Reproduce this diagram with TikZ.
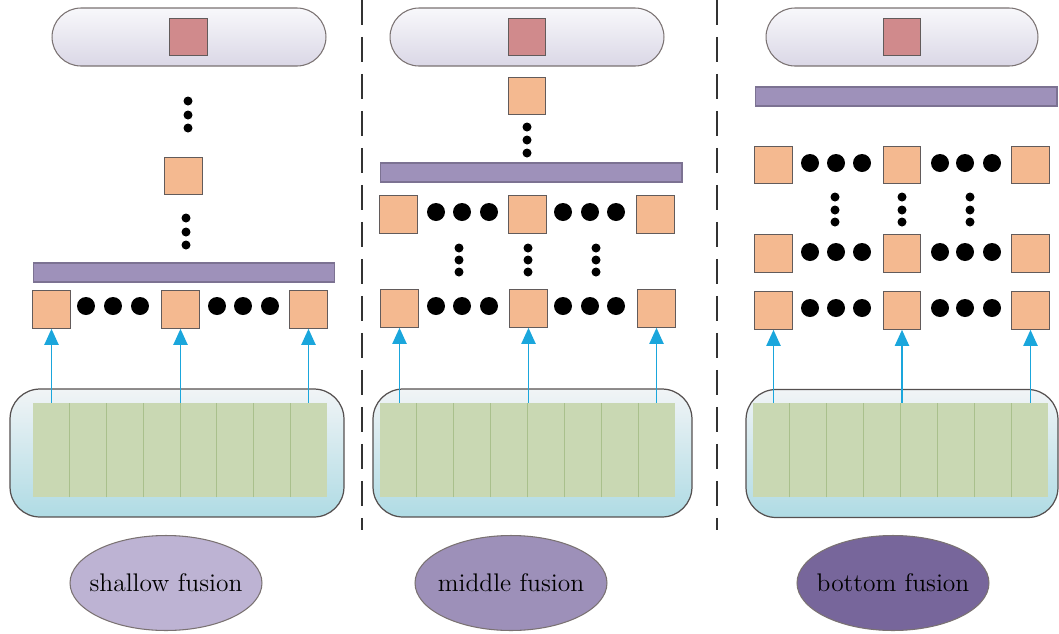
\documentclass[tikz,border=0pt]{standalone}
\usepackage{tikz}
\usetikzlibrary{arrows.meta,calc,positioning,shapes.geometric,shapes.misc}
\usepackage{xcolor}
\definecolor{FuEdge}{HTML}{7A7272}
\definecolor{FuCapTop}{HTML}{F8F8FB}
\definecolor{FuCapBot}{HTML}{DAD7E6}
\definecolor{FuOut}{HTML}{D08A8C}
\definecolor{FuFeat}{HTML}{F4B990}
\definecolor{FuBar}{HTML}{9E91BA}
\definecolor{FuBarEdge}{HTML}{7C7292}
\definecolor{FuGreen}{HTML}{C9D8B3}
\definecolor{FuGreenLine}{HTML}{A9C08C}
\definecolor{FuBoxTop}{HTML}{F1F4F6}
\definecolor{FuBoxBot}{HTML}{AFDBE4}
\definecolor{FuArrow}{HTML}{1AA6DC}
\definecolor{FuShallow}{HTML}{BDB3D3}
\definecolor{FuMiddle}{HTML}{9D90B9}
\definecolor{FuBottom}{HTML}{77669B}

\begin{document}
\begin{tikzpicture}[
  x=0.02cm,y=-0.02cm,
  capsule/.style={rounded rectangle,draw=FuEdge,line width=0.6pt,top color=FuCapTop,bottom color=FuCapBot,
    minimum height=1.16cm,inner sep=0pt},
  outsq/.style={draw=FuEdge!80!black,fill=FuOut,line width=0.6pt,minimum size=0.75cm,inner sep=0pt},
  feat/.style={draw=FuEdge!80!black,fill=FuFeat,line width=0.6pt,minimum size=0.75cm,inner sep=0pt},
  fusebar/.style={draw=FuBarEdge,fill=FuBar,line width=0.6pt,minimum height=0.38cm,
    minimum width=6.04cm,inner sep=0pt},
  holder/.style={draw=FuEdge!70!black,line width=0.7pt,top color=FuBoxTop,bottom color=FuBoxBot,
    rounded corners=0.6cm,minimum height=2.56cm,inner sep=0pt},
  enc/.style={fill=FuGreen,minimum width=5.9cm,minimum height=1.88cm,inner sep=0pt},
  col/.style={draw=FuGreenLine,line width=0.5pt},
  feed/.style={-{Triangle[width=0.28cm,length=0.32cm]},draw=FuArrow,line width=1.1pt},
  bigdot/.style={fill=black},
  sep/.style={draw=black!80,line width=1.3pt,dash pattern=on 0.5cm off 0.24cm},
  mode/.style={ellipse,draw=FuEdge,line width=0.6pt,minimum width=3.84cm,minimum height=1.9cm,
    inner xsep=-0.22cm,inner ysep=0pt,font=\fontsize{14.5}{16}\selectfont,text=black}
]
\useasboundingbox (0,0) rectangle (1059,633);

% panel separators
\coordinate (sepAtop) at (362,0);
\coordinate (sepAbot) at (362,530);
\coordinate (sepBtop) at (717,0);
\coordinate (sepBbot) at (717,530);
\draw[sep] (sepAtop) -- (sepAbot);
\draw[sep] (sepBtop) -- (sepBbot);

% ---------- shallow fusion ----------
\node[capsule,minimum width=5.48cm] (capA) at (189,37) {};
\node[outsq] (outA) at (188.5,37) {};
\node[feat] (midA) at (183.5,176) {};
\node[fusebar] (barA) at (184,272.5) {};
\node[feat] (sqA1) at (51.5,309.5) {};
\node[feat] (sqA2) at (180.5,309.5) {};
\node[feat] (sqA3) at (308.5,309.5) {};
\node[holder,minimum width=6.68cm] (boxA) at (177,453) {};
\node[enc,minimum width=5.88cm] (encA) at (180,450) {};
\foreach \y in {101,115,128} \fill[bigdot] (188,\y) circle (0.09cm);
\foreach \y in {218,232,245} \fill[bigdot] (186,\y) circle (0.09cm);
\foreach \x in {86,113,140,217,243,270} \fill[bigdot] (\x,306) circle (0.18cm);

% ---------- middle fusion ----------
\node[capsule,minimum width=5.48cm] (capB) at (527,37) {};
\node[outsq] (outB) at (527,37) {};
\node[feat] (midB) at (527,96) {};
\node[fusebar] (barB) at (531,172.5) {};
\node[feat] (sqB1) at (398.5,214.5) {};
\node[feat] (sqB2) at (527.5,214.5) {};
\node[feat] (sqB3) at (655.5,214.5) {};
\node[feat] (sqB4) at (399.5,308.5) {};
\node[feat] (sqB5) at (528.5,308.5) {};
\node[feat] (sqB6) at (656.5,308.5) {};
\node[holder,minimum width=6.38cm] (boxB) at (532.5,453) {};
\node[enc] (encB) at (527.5,450) {};
\foreach \y in {127,140,153} \fill[bigdot] (527,\y) circle (0.09cm);
\foreach \x in {459,528,596}
  \foreach \y in {248,260,272} \fill[bigdot] (\x,\y) circle (0.09cm);
\foreach \x in {436,462,489,563,590,616} {
  \fill[bigdot] (\x,212) circle (0.18cm);
  \fill[bigdot] (\x,306) circle (0.18cm);
}

% ---------- bottom fusion ----------
\node[capsule,minimum width=5.44cm] (capC) at (902,37) {};
\node[outsq] (outC) at (902,37) {};
\node[fusebar] (barC) at (906,96.5) {};
\node[feat] (sqC1) at (773.5,165) {};
\node[feat] (sqC2) at (902,165) {};
\node[feat] (sqC3) at (1030.5,165) {};
\node[feat] (sqC4) at (773.5,253.5) {};
\node[feat] (sqC5) at (902,253.5) {};
\node[feat] (sqC6) at (1030.5,253.5) {};
\node[feat] (sqC7) at (773.5,310.5) {};
\node[feat] (sqC8) at (902,310.5) {};
\node[feat] (sqC9) at (1030.5,310.5) {};
\node[holder,minimum width=6.24cm] (boxC) at (902,453.5) {};
\node[enc] (encC) at (900.5,450) {};
\foreach \x in {835,902,970}
  \foreach \y in {197,210,222} \fill[bigdot] (\x,\y) circle (0.09cm);
\foreach \x in {810,836,862,940,965,992} {
  \fill[bigdot] (\x,163) circle (0.18cm);
  \fill[bigdot] (\x,252) circle (0.18cm);
  \fill[bigdot] (\x,308) circle (0.18cm);
}

% encoder columns
\foreach \e in {encA,encB,encC}
  \foreach \i in {1,...,7}
    \draw[col] ($(\e.south west)!\i/8!(\e.south east)$) -- ($(\e.north west)!\i/8!(\e.north east)$);

% features taken from the encoder
\draw[feed] (encA.north -| sqA1) -- (sqA1);
\draw[feed] (encA.north -| sqA2) -- (sqA2);
\draw[feed] (encA.north -| sqA3) -- (sqA3);
\draw[feed] (encB.north -| sqB4) -- (sqB4);
\draw[feed] (encB.north -| sqB5) -- (sqB5);
\draw[feed] (encB.north -| sqB6) -- (sqB6);
\draw[feed] (encC.north -| sqC7) -- (sqC7);
\draw[feed] (encC.north -| sqC8) -- (sqC8);
\draw[feed] (encC.north -| sqC9) -- (sqC9);

% fusion labels
\node[mode,fill=FuShallow] (shallow) at (166,583) {shallow fusion};
\node[mode,fill=FuMiddle] (middle) at (511,583) {middle fusion};
\node[mode,fill=FuBottom] (bottom) at (893,583) {bottom fusion};

\end{tikzpicture}
\end{document}
